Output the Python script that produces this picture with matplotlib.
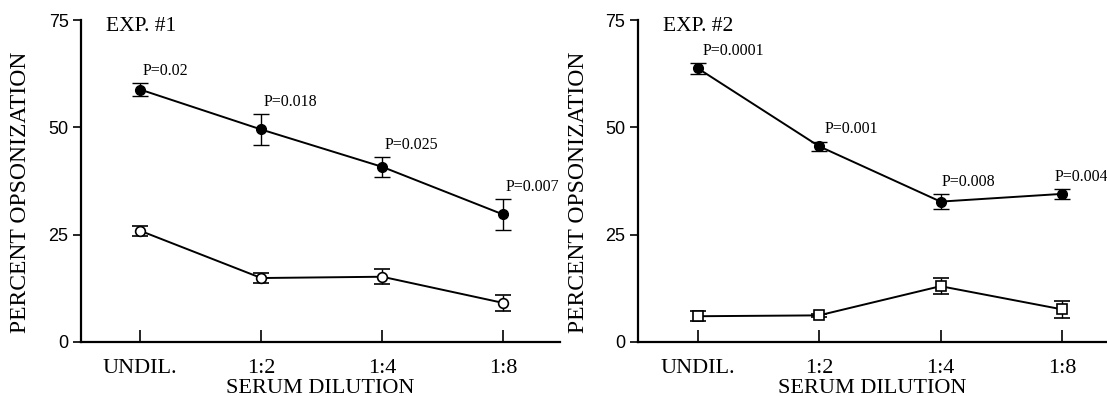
import matplotlib
matplotlib.use("Agg")
import matplotlib.pyplot as plt

categories = ["UNDIL.", "1:2", "1:4", "1:8"]

# EXP. #1
exp1_filled = [58.8, 49.5, 40.8, 29.7]
exp1_filled_err = [1.6, 3.6, 2.4, 3.6]
exp1_open = [25.9, 14.9, 15.2, 9.1]
exp1_open_err = [1.2, 1.1, 1.8, 1.8]
exp1_p = ["P=0.02", "P=0.018", "P=0.025", "P=0.007"]

# EXP. #2
exp2_filled = [63.8, 45.6, 32.7, 34.5]
exp2_filled_err = [1.3, 1.1, 1.8, 1.1]
exp2_open = [6.0, 6.2, 13.0, 7.6]
exp2_open_err = [1.2, 0.4, 1.8, 2.0]
exp2_p = ["P=0.0001", "P=0.001", "P=0.008", "P=0.004"]

serif = "Liberation Serif"
sans = "Liberation Sans"

fig = plt.figure(figsize=(11.07, 3.96), dpi=100)
ax1 = fig.add_axes([0.0732, 0.1364, 0.4327, 0.813])
ax2 = fig.add_axes([0.5763, 0.1364, 0.4237, 0.813])


def draw(ax, filled, ferr, opn, oerr, plabels, poffs, title, open_marker, xmax):
    x = list(range(len(categories)))
    ax.errorbar(x, filled, yerr=ferr, color="black", marker="o", markersize=7,
                markerfacecolor="black", linewidth=1.4, capsize=6, elinewidth=1,
                capthick=1)
    ax.errorbar(x, opn, yerr=oerr, color="black", marker=open_marker, markersize=7,
                markerfacecolor="white", markeredgewidth=1.2, linewidth=1.4,
                capsize=6, elinewidth=1, capthick=1)
    for xi, yi, e, lab, dx in zip(x, filled, ferr, plabels, poffs):
        ax.text(xi + dx, yi + e + 2.8, lab, ha="left", va="center",
                family=serif, fontsize=11.5, clip_on=False)
    ax.set_xlim(-0.49, xmax)
    ax.set_ylim(0, 75)
    ax.set_yticks([0, 25, 50, 75])
    ax.set_yticklabels(["0", "25", "50", "75"], family=sans, fontsize=13)
    ax.set_xticks(x)
    ax.set_xticklabels(categories, family=serif, fontsize=16)
    ax.tick_params(axis="x", direction="in", length=9, width=1.2, pad=12)
    ax.tick_params(axis="y", direction="out", length=6, width=1.2, pad=3)
    for s in ["top", "right"]:
        ax.spines[s].set_visible(False)
    for s in ["left", "bottom"]:
        ax.spines[s].set_linewidth(1.6)
    ax.set_xlabel("SERUM DILUTION", family=serif, fontsize=16, labelpad=1)
    ax.set_ylabel("PERCENT OPSONIZATION", family=serif, fontsize=17)
    ax.yaxis.set_label_coords(-0.105, 0.466)
    ax.text(-0.285, 73.5, title, family=serif, fontsize=15.5, va="center",
            ha="left", clip_on=False)


draw(ax1, exp1_filled, exp1_filled_err, exp1_open, exp1_open_err, exp1_p,
     [0.02, 0.02, 0.02, 0.02], "EXP. #1", "o", 3.47)
draw(ax2, exp2_filled, exp2_filled_err, exp2_open, exp2_open_err, exp2_p,
     [0.04, 0.05, 0.01, -0.06], "EXP. #2", "s", 3.37)

fig.savefig("out.png", dpi=100)
